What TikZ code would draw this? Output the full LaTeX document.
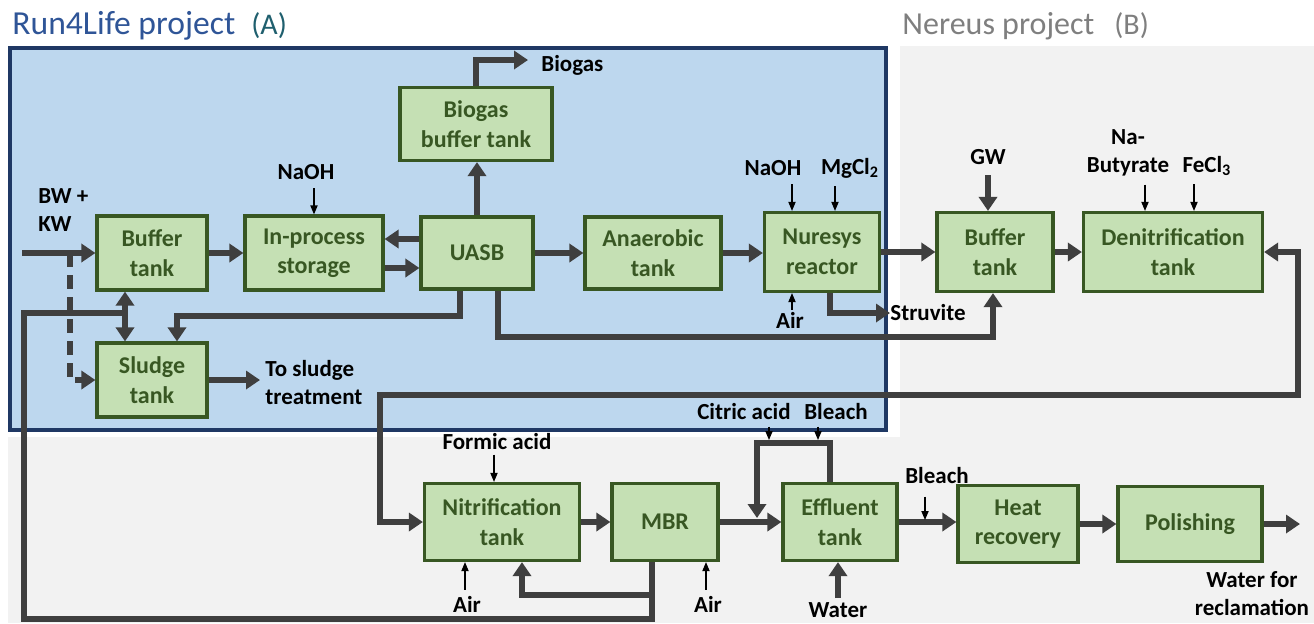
\documentclass[tikz,border=0pt]{standalone}
\usepackage{fontspec}
\setmainfont{Carlito}
\definecolor{rlBlue}{HTML}{BDD7EE}
\definecolor{rlNavy}{HTML}{1F3864}
\definecolor{rlTitle}{HTML}{2F5597}
\definecolor{rlTeal}{HTML}{1F5F6E}
\definecolor{nrGrey}{HTML}{F2F2F2}
\definecolor{nrTitle}{HTML}{7F7F7F}
\definecolor{unitFill}{HTML}{C5E0B4}
\definecolor{unitLine}{HTML}{385723}
\definecolor{pipeGrey}{HTML}{3F3F3F}
\usetikzlibrary{arrows.meta,positioning}

\tikzset{
  unit/.style={draw=unitLine, fill=unitFill, line width=1.6pt, text=unitLine, align=center,
    inner sep=0pt, font=\fontsize{12}{14.75}\selectfont\bfseries},
  pipe/.style={draw=pipeGrey, line width=3pt, -{Triangle[length=7pt,width=9pt]}},
  twoway/.style={pipe, {Triangle[length=7pt,width=9pt]}-{Triangle[length=7pt,width=9pt]}},
  dose/.style={draw=black, line width=0.6pt, -{Triangle[length=4.5pt,width=3.6pt]}},
  lbl/.style={font=\fontsize{11.5}{14}\selectfont\bfseries, inner sep=0pt, align=center}
}

\begin{document}
\begin{tikzpicture}[x=0.5pt, y=-0.5pt]
  \useasboundingbox (0,0) rectangle (1314,623);
  \fill[nrGrey] (900,46) rectangle (1314,437);
  \fill[nrGrey] (8,437) rectangle (1314,623);
  \draw[rlNavy, fill=rlBlue, line width=2.2pt] (10,48) rectangle (886,430);

  \node[anchor=base west, inner sep=0pt] (runtitle) at (12,34)
    {{\fontsize{16.8}{20}\selectfont\color{rlTitle}Run4Life project}\hspace{8pt}{\fontsize{15}{18}\selectfont\color{rlTeal}(A)}};
  \node[anchor=base west, inner sep=0pt] (nertitle) at (902,34)
    {{\fontsize{16}{19}\selectfont\color{nrTitle}Nereus project}\hspace{10pt}{\fontsize{15}{18}\selectfont\color{nrTitle}(B)}};

  \node[unit, minimum width=55pt, minimum height=37pt] (bufA) at (152,253) {Buffer\\tank};
  \node[unit, minimum width=69pt, minimum height=37pt] (store) at (314,253) {In-process\\storage};
  \node[unit, minimum width=56pt, minimum height=36pt] (uasb) at (477,253) {UASB};
  \node[unit, minimum width=76pt, minimum height=36.5pt] (biobuf) at (476,124) {Biogas\\buffer tank};
  \node[unit, minimum width=68pt, minimum height=36pt] (anaer) at (653,253) {Anaerobic\\tank};
  \node[unit, minimum width=57.5pt, minimum height=39.5pt] (nures) at (822,252) {Nuresys\\reactor};
  \node[unit, minimum width=58pt, minimum height=39.5pt] (bufB) at (995,252) {Buffer\\tank};
  \node[unit, minimum width=89.5pt, minimum height=39.5pt] (denit) at (1173,252) {Denitrification\\tank};
  \node[unit, minimum width=55pt, minimum height=37pt] (sludge) at (152,380) {Sludge\\tank};
  \node[unit, minimum width=77.5pt, minimum height=38.5pt] (nitri) at (502,522) {Nitrification\\tank};
  \node[unit, minimum width=53pt, minimum height=38.5pt] (mbr) at (665,522) {MBR};
  \node[unit, minimum width=57pt, minimum height=38.5pt] (efflu) at (840,522) {Effluent\\tank};
  \node[unit, minimum width=60pt, minimum height=38.5pt] (heat) at (1018,524) {Heat\\recovery};
  \node[unit, minimum width=72pt, minimum height=37.5pt] (polish) at (1190,524) {Polishing};

  \node[lbl, anchor=north west, align=left] (bwkw) at (38,188) {BW +\\KW};
  \node[lbl, anchor=west, align=left] (totreat) at (265,383) {To sludge\\treatment};
  \node[lbl, anchor=west] (biogas) at (541,65) {Biogas};
  \node[lbl, anchor=west] (struv) at (890,313) {Struvite};
  \node[lbl] (naohA) at (306,172) {NaOH};
  \node[lbl] (naohB) at (773,168) {NaOH};
  \node[lbl] (mgcl) at (850,168) {MgCl\textsubscript{2}};
  \node[lbl] (airB) at (790,320) {Air};
  \node[lbl] (gw) at (988,157) {GW};
  \node[lbl] (butyr) at (1128,153) {Na-\\Butyrate};
  \node[lbl] (fecl) at (1207,166) {FeCl\textsubscript{3}};
  \node[lbl] (formic) at (497,442) {Formic acid};
  \node[lbl] (citric) at (744,412) {Citric acid};
  \node[lbl] (bleachA) at (836,412) {Bleach};
  \node[lbl] (bleachB) at (937,476) {Bleach};
  \node[lbl] (airN) at (467,604) {Air};
  \node[lbl] (airM) at (708,604) {Air};
  \node[lbl] (water) at (838,610) {Water};
  \node[lbl] (reclaim) at (1252,594) {Water for\\reclamation};

  \coordinate (bwin) at (22,253);
  \coordinate (split) at (70,253);
  \coordinate (gasout) at (528,60);
  \coordinate (sludgeout) at (260,380);
  \coordinate (jA) at (125,313);
  \coordinate (retcorner) at (24,619);
  \coordinate (mbrtap) at (652,595);
  \coordinate (recycle) at (1298,395);
  \coordinate (recycleL) at (380,395);
  \coordinate (loopL) at (757,443);
  \coordinate (loopin) at (757,518);
  \coordinate (waterout) at (1300,524);

  \draw[pipe] (bwin) -- (bufA.west);
  \draw[pipe, dash pattern=on 7pt off 4pt] (split) |- (sludge.west);
  \draw[pipe] (bufA.east) -- (store.west);
  \draw[pipe] ([yshift=7pt]uasb.west) -- ([yshift=7pt]store.east);
  \draw[pipe] ([yshift=-7.5pt]store.east) -- ([yshift=-7.5pt]uasb.west);
  \draw[pipe] (uasb.north) -- (uasb.north |- biobuf.south);
  \draw[pipe] (biobuf.north) |- (gasout);
  \draw[pipe] (uasb.east) -- (anaer.west);
  \draw[pipe] (anaer.east) -- (anaer.east -| nures.west);
  \draw[pipe] (nures.east) -- (bufB.west);
  \draw[pipe] (bufB.east) -- (denit.west);
  \draw[pipe] ([xshift=4pt]nures.south) |- (struv.west);
  \draw[pipe] ([xshift=10.5pt]uasb.south) -- ++(0,46) -| ([xshift=-1pt]bufB.south);
  \draw[pipe] ([xshift=-8.5pt]uasb.south) -- ++(0,25) -| ([xshift=12.5pt]sludge.north);
  \draw[twoway] ([xshift=-13.5pt]bufA.south) -- ([xshift=-13.5pt]sludge.north);
  \draw[pipe] (sludge.east) -- (sludgeout);
  \draw[pipe, -] ([xshift=-6.5pt]mbr.south) |- (retcorner) |- (jA);
  \draw[pipe] (mbrtap) -| ([xshift=10pt]nitri.south);
  \draw[twoway] (denit.east) -| (recycle) -- (recycleL) |- (nitri.west);
  \draw[pipe] (nitri.east) -- (mbr.west);
  \draw[pipe] (mbr.east) -- (efflu.west);
  \draw[pipe] ([xshift=-5pt]efflu.north) |- (loopL) -- (loopin);
  \draw[pipe] (efflu.east) -- (efflu.east -| heat.west);
  \draw[pipe] (heat.east) -- (heat.east -| polish.west);
  \draw[pipe] (polish.east) -- (waterout);
  \draw[pipe, shorten <=2pt] (water.north) -- (water.north |- efflu.south);
  \draw[pipe, shorten <=5pt] ([xshift=-3.5pt]bufB.north |- gw.south) -- ([xshift=-3.5pt]bufB.north);

  \coordinate (naohBin) at ([xshift=-15pt]nures.north);
  \coordinate (mgclin) at ([xshift=6.5pt]nures.north);
  \coordinate (airBin) at ([xshift=-15pt]nures.south);
  \coordinate (butyrin) at ([xshift=-14pt]denit.north);
  \coordinate (feclin) at ([xshift=10.5pt]denit.north);
  \coordinate (formicin) at ([xshift=-4pt]nitri.north);
  \coordinate (airNin) at ([xshift=-18.5pt]nitri.south);
  \coordinate (airMin) at ([xshift=20.5pt]mbr.south);
  \coordinate (citricin) at (769,440);
  \coordinate (bleachAin) at (818,440);
  \coordinate (bleachBin) at (925,520);

  \draw[dose, shorten <=4pt] (store.north |- naohA.south) -- (store.north);
  \draw[dose, shorten <=4pt] (naohBin |- naohB.south) -- (naohBin);
  \draw[dose, shorten <=4pt] (mgclin |- mgcl.south) -- (mgclin);
  \draw[dose, shorten <=4pt] (butyrin |- butyr.south) -- (butyrin);
  \draw[dose, shorten <=4pt] (feclin |- fecl.south) -- (feclin);
  \draw[dose, shorten <=2pt] (formicin |- formic.south) -- (formicin);
  \draw[dose, shorten <=3pt] (citricin |- citric.south) -- (citricin);
  \draw[dose, shorten <=3pt] (bleachAin |- bleachA.south) -- (bleachAin);
  \draw[dose, shorten <=6pt] (bleachBin |- bleachB.south) -- (bleachBin);
  \draw[dose, shorten <=1pt] (airBin |- airB.north) -- (airBin);
  \draw[dose, shorten <=3pt] (airNin |- airN.north) -- (airNin);
  \draw[dose, shorten <=3pt] (airMin |- airM.north) -- (airMin);
\end{tikzpicture}
\end{document}
